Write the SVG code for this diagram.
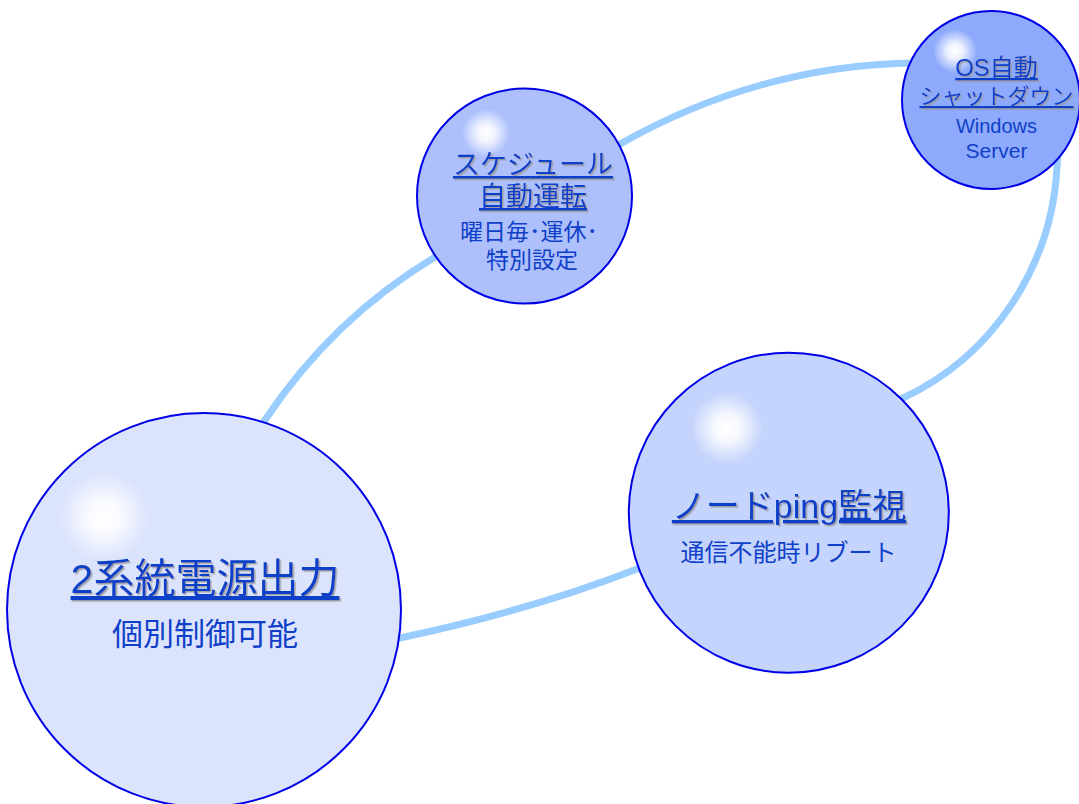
<svg xmlns="http://www.w3.org/2000/svg" width="1079" height="804" viewBox="0 0 1079 804">
  <defs>
    <radialGradient id="hl">
      <stop offset="0" stop-color="#ffffff" stop-opacity="1"/>
      <stop offset="0.35" stop-color="#ffffff" stop-opacity="0.85"/>
      <stop offset="1" stop-color="#ffffff" stop-opacity="0"/>
    </radialGradient>
    <filter id="sh" x="-10%" y="-30%" width="120%" height="160%">
      <feDropShadow dx="1.5" dy="1.5" stdDeviation="0.4" flood-color="#9a9a9a" flood-opacity="0.9"/>
    </filter>
  </defs>
  <style>
    .ring { fill: none; stroke: #99ccff; stroke-width: 7; stroke-linecap: butt; }
    .node { stroke: #0000e6; stroke-width: 2; }
    text { font-family: "Liberation Sans", "Noto Sans CJK JP", sans-serif; fill: #1040c8; text-anchor: middle; }
    .title { text-decoration: underline; filter: url(#sh); }
  </style>
  <rect width="1079" height="804" fill="#ffffff"/>

  <g id="connectors">
    <path class="ring" d="M254,437 L265,420 C309,354 367,298 435,257 L452,247"/>
    <path class="ring" d="M605,153 L622,143 C710,93 809,65 910,63 L930,62"/>
    <path class="ring" d="M1058,147 L1057,167 C1052,266 993,356 903,398 L885,406"/>
    <path class="ring" d="M656,562 L637,569 C560,599 481,621 400,638 L380,642"/>
  </g>

  <g id="node-schedule">
    <circle class="node" cx="524.5" cy="196" r="107.5" fill="#aec0fc"/>
    <circle cx="486" cy="133" r="24" fill="url(#hl)"/>
    <text class="title" x="533" y="174" font-size="27">スケジュール</text>
    <text class="title" x="533" y="206" font-size="27">自動運転</text>
    <text x="529" y="240" font-size="23">曜日毎･運休･</text>
    <text x="532" y="268" font-size="23">特別設定</text>
  </g>

  <g id="node-os">
    <circle class="node" cx="991" cy="100" r="89" fill="#8eaafc"/>
    <circle cx="955" cy="51" r="22" fill="url(#hl)"/>
    <text class="title" x="996.5" y="76" font-size="24">OS自動</text>
    <text class="title" x="996.5" y="104" font-size="22">シャットダウン</text>
    <text x="996.5" y="133" font-size="20">Windows</text>
    <text x="996.5" y="158" font-size="21">Server</text>
  </g>

  <g id="node-ping">
    <circle class="node" cx="788.8" cy="512.7" r="160" fill="#c5d4fc"/>
    <circle cx="727" cy="428" r="36" fill="url(#hl)"/>
    <text class="title" x="789" y="518" font-size="34">ノードping監視</text>
    <text x="788.5" y="561" font-size="24">通信不能時リブート</text>
  </g>

  <g id="node-power">
    <circle class="node" cx="204" cy="610" r="197" fill="#dce4fd"/>
    <circle cx="104" cy="517" r="44" fill="url(#hl)"/>
    <text class="title" x="205" y="593" font-size="41">2系統電源出力</text>
    <text x="205" y="645" font-size="31">個別制御可能</text>
  </g>
</svg>
